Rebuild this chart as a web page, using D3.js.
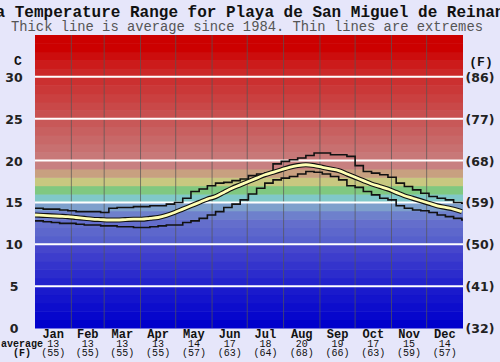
<!DOCTYPE html>
<html>
<head>
<meta charset="utf-8">
<script src="https://cdn.jsdelivr.net/npm/d3@7"></script>
<style>
  body { margin: 0; background: #e6e6fa; }
  svg { display: block; }
</style>
</head>
<body>
<div id="chart"></div>
<script>
// month labels + the monthly average row under the chart
var months = ['Jan', 'Feb', 'Mar', 'Apr', 'May', 'Jun', 'Jul', 'Aug', 'Sep', 'Oct', 'Nov', 'Dec']
var monthDays = [31, 28, 31, 30, 31, 30, 31, 31, 30, 31, 30, 31]
var monthAvgC = [13, 13, 13, 13, 14, 17, 18, 20, 19, 17, 15, 14]
var monthAvgF = [55, 55, 55, 55, 57, 63, 64, 68, 66, 63, 59, 57]

var ticksC = [0, 5, 10, 15, 20, 25, 30]
var ticksF = [32, 41, 50, 59, 68, 77, 86]

// weekly samples, day of year 0,7,14 ... 364
var avgTemp = [13.5, 13.45, 13.4, 13.35, 13.3, 13.2, 13.1, 13.0, 12.95, 12.9, 12.9, 12.95, 13.0,
    13.0, 13.1, 13.2, 13.45, 13.8, 14.2, 14.6, 15.0, 15.4, 15.7, 16.2, 16.7, 17.1, 17.5,
    17.9, 18.3, 18.6, 18.9, 19.2, 19.4, 19.5, 19.4, 19.2, 19.0, 18.8, 18.4, 18.0, 17.6,
    17.2, 16.9, 16.6, 16.2, 15.8, 15.5, 15.2, 14.9, 14.6, 14.4, 14.2, 13.9]
var maxTemp = [14.3, 14.2, 14.2, 14.1, 14.0, 13.9, 13.9, 13.9, 13.8, 14.3, 14.4, 14.4, 14.5,
    14.5, 14.6, 14.6, 14.8, 15.0, 15.5, 16.3, 16.6, 17.0, 17.3, 17.4, 17.6, 17.8, 18.2,
    18.4, 18.5, 19.6, 19.9, 20.1, 20.3, 20.6, 20.9, 20.9, 20.7, 20.7, 20.5, 19.4, 18.7,
    18.5, 18.3, 18.0, 17.3, 16.9, 16.5, 16.1, 15.7, 15.5, 15.3, 15.0, 14.9]
var minTemp = [12.8, 12.7, 12.6, 12.5, 12.5, 12.4, 12.3, 12.3, 12.2, 12.2, 12.1, 12.1, 12.0,
    12.0, 12.1, 12.2, 12.3, 12.3, 12.6, 12.8, 13.1, 13.5, 13.9, 14.4, 14.8, 15.3, 16.0,
    16.7, 17.3, 17.7, 17.9, 18.1, 18.4, 18.7, 18.6, 18.4, 18.1, 17.7, 17.0, 16.8, 16.3,
    15.9, 15.5, 15.3, 14.6, 14.3, 14.1, 14.0, 13.8, 13.5, 13.3, 13.1, 12.9]
var days = d3.range(0, 365, 7)

var width = 500,
    height = 362,
    margin = { top: 35, right: 37, bottom: 34, left: 35 }

var svg = d3.select('#chart').append('svg')
    .attr('width', width)
    .attr('height', height)

svg.append('rect').attr('width', width).attr('height', height).attr('fill', '#e6e6fa')

var x = d3.scaleLinear()
    .domain([0, 365])
    .range([margin.left, width - margin.right])
var y = d3.scaleLinear()
    .domain([0, 35])
    .range([height - margin.bottom, margin.top])

// colour of each 1 degree band
var bandColor = d3.scaleLinear()
    .domain([0, 4, 9, 10, 12, 13, 14, 15, 16, 17, 18, 19, 20, 25, 30, 33])
    .range(['#0000cc', '#1a1acc', '#4646cc', '#5660cc', '#646ecc', '#6e80cc', '#7ea0cc', '#80c8c8',
        '#80c880', '#c8c880', '#c8a080', '#c88080', '#c87878', '#c85050', '#cc2828', '#cc0000'])
    .clamp(true)

svg.append('g')
    .selectAll('rect')
    .data(d3.range(0, 35))
    .enter().append('rect')
    .attr('x', x(0))
    .attr('width', x(365) - x(0))
    .attr('y', d => y(d + 1))
    .attr('height', d => y(d) - y(d + 1) + 0.5)
    .attr('fill', d => bandColor(d))

// month boundaries
var monthStart = d3.cumsum([0].concat(monthDays.slice(0, 11)))
svg.append('g')
    .selectAll('line')
    .data(monthStart.slice(1))
    .enter().append('line')
    .attr('x1', d => x(d)).attr('x2', d => x(d))
    .attr('y1', y(35)).attr('y2', y(0))
    .attr('stroke', '#555')
    .attr('stroke-opacity', 0.7)
    .attr('stroke-width', 1)

// white lines every 5 degrees
svg.append('g')
    .selectAll('line')
    .data(ticksC.slice(1))
    .enter().append('line')
    .attr('x1', x(0)).attr('x2', x(365))
    .attr('y1', d => y(d)).attr('y2', d => y(d))
    .attr('stroke', '#fff')
    .attr('stroke-width', 2)

svg.append('clipPath').attr('id', 'plot')
    .append('rect')
    .attr('x', x(0)).attr('y', y(35))
    .attr('width', x(365) - x(0)).attr('height', y(0) - y(35))

var curves = svg.append('g').attr('clip-path', 'url(#plot)')

var stepLine = d3.line()
    .x((d, i) => x(days[i] !== undefined ? days[i] : 365))
    .y(d => y(d))
    .curve(d3.curveStepAfter)
var smoothLine = d3.line()
    .x((d, i) => x(days[i]))
    .y(d => y(d))
    .curve(d3.curveMonotoneX)

curves.selectAll('.extreme')
    .data([maxTemp, minTemp])
    .enter().append('path')
    .attr('class', 'extreme')
    .attr('d', d => stepLine(d.concat([d[d.length - 1]])))
    .attr('fill', 'none')
    .attr('stroke', '#111')
    .attr('stroke-width', 1.6)

curves.append('path')
    .attr('d', smoothLine(avgTemp))
    .attr('fill', 'none')
    .attr('stroke', '#111')
    .attr('stroke-width', 5)
curves.append('path')
    .attr('d', smoothLine(avgTemp))
    .attr('fill', 'none')
    .attr('stroke', '#ffffb4')
    .attr('stroke-width', 2.8)

// titles
var mono = '"Courier New", "Liberation Mono", monospace'
svg.append('text')
    .attr('x', 250).attr('y', 17)
    .attr('text-anchor', 'middle')
    .style('font-family', mono)
    .style('font-weight', 'bold')
    .style('font-size', '16px')
    .attr('fill', '#111')
    .text('Sea Temperature Range for Playa de San Miguel de Reinante')
svg.append('text')
    .attr('x', 247).attr('y', 31)
    .attr('text-anchor', 'middle')
    .style('font-family', mono)
    .style('font-size', '13.8px')
    .attr('fill', '#555')
    .text('Thick line is average since 1984. Thin lines are extremes')

// axis labels
var sans = '"DejaVu Sans", Verdana, sans-serif'
svg.append('g')
    .selectAll('text')
    .data(ticksC)
    .enter().append('text')
    .attr('x', 14).attr('y', d => y(d) + 5)
    .attr('text-anchor', 'middle')
    .style('font-family', sans)
    .style('font-weight', 'bold')
    .style('font-size', '12.5px')
    .attr('fill', '#222')
    .text(d => d)
svg.append('g')
    .selectAll('text')
    .data(ticksF)
    .enter().append('text')
    .attr('x', 480).attr('y', (d, i) => y(ticksC[i]) + 5)
    .attr('text-anchor', 'middle')
    .style('font-family', sans)
    .style('font-weight', 'bold')
    .style('font-size', '12.5px')
    .attr('fill', '#222')
    .text(d => '(' + d + ')')

svg.append('text')
    .attr('x', 18).attr('y', 65)
    .attr('text-anchor', 'middle')
    .style('font-family', mono).style('font-weight', 'bold').style('font-size', '13px')
    .attr('fill', '#111')
    .text('C')
svg.append('text')
    .attr('x', 481).attr('y', 66)
    .attr('text-anchor', 'middle')
    .style('font-family', mono).style('font-weight', 'bold').style('font-size', '13px')
    .attr('fill', '#111')
    .text('(F)')

// bottom rows
var bottom = svg.append('g')
    .selectAll('g')
    .data(months)
    .enter().append('g')
    .attr('transform', (d, i) => `translate(${x(monthStart[i] + monthDays[i] / 2)}, 0)`)

bottom.append('text')
    .attr('y', 338)
    .attr('text-anchor', 'middle')
    .style('font-family', mono).style('font-weight', 'bold').style('font-size', '12px')
    .attr('fill', '#111')
    .text(d => d)
bottom.append('text')
    .attr('y', 347)
    .attr('text-anchor', 'middle')
    .style('font-family', mono).style('font-size', '10px')
    .attr('fill', '#111')
    .text((d, i) => monthAvgC[i])
bottom.append('text')
    .attr('y', 356)
    .attr('text-anchor', 'middle')
    .style('font-family', mono).style('font-size', '10px')
    .attr('fill', '#111')
    .text((d, i) => '(' + monthAvgF[i] + ')')

svg.append('text')
    .attr('x', 22).attr('y', 347)
    .attr('text-anchor', 'middle')
    .style('font-family', mono).style('font-weight', 'bold').style('font-size', '10px')
    .attr('fill', '#111')
    .text('average')
svg.append('text')
    .attr('x', 22).attr('y', 356)
    .attr('text-anchor', 'middle')
    .style('font-family', mono).style('font-weight', 'bold').style('font-size', '10px')
    .attr('fill', '#111')
    .text('(F)')
</script>
</body>
</html>
